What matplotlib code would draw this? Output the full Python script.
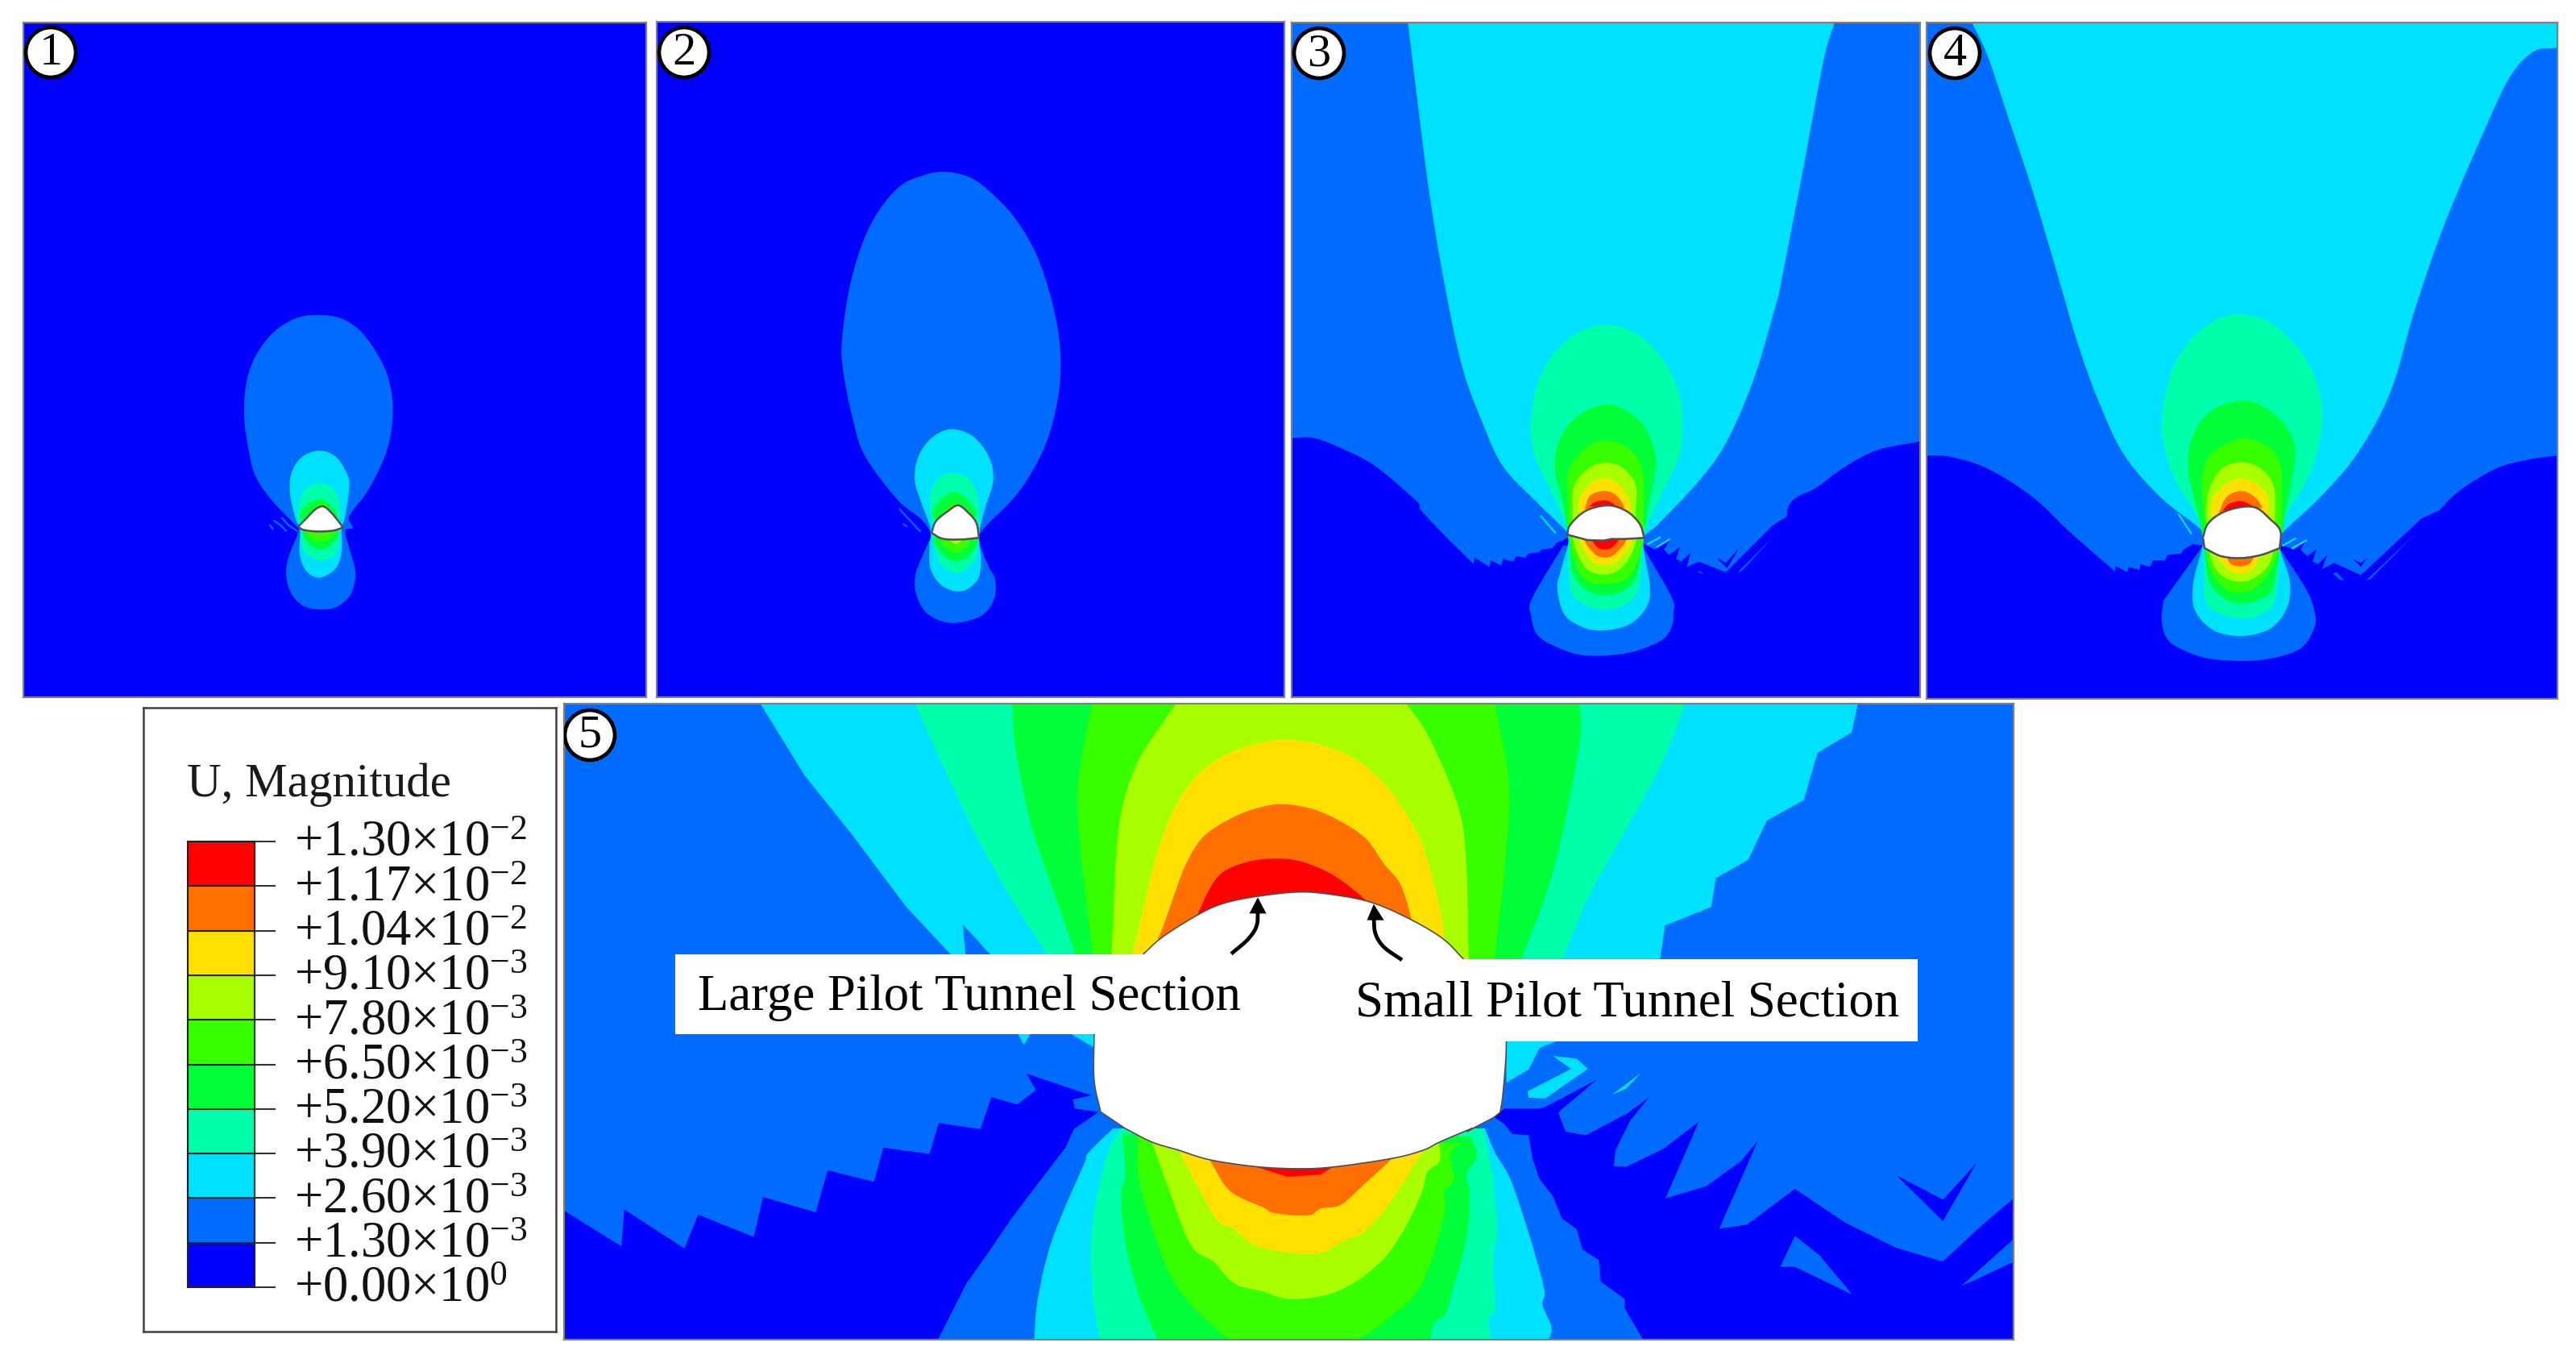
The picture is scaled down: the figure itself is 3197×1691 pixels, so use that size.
import numpy as np
import matplotlib
matplotlib.use('Agg')
import matplotlib.pyplot as plt
from matplotlib.patches import Polygon, Rectangle, Circle
from matplotlib.transforms import ScaledTranslation

plt.rcParams['font.family'] = ['Liberation Serif', 'DejaVu Serif']
plt.rcParams['mathtext.fontset'] = 'custom'
plt.rcParams['mathtext.rm'] = 'Liberation Serif'
plt.rcParams['mathtext.it'] = 'Liberation Serif'
plt.rcParams['mathtext.bf'] = 'Liberation Serif'

W, H = 3197, 1691

# legend
band_colors = ['#0000FF', '#006CFF', '#00E0FF', '#00FFAA', '#00FF38',
               '#38FF00', '#A8FF00', '#FFE000', '#FF7000', '#FF0000']
tick_labels = ['+0.00×10$^{0}$', '+1.30×10$^{-3}$', '+2.60×10$^{-3}$', '+3.90×10$^{-3}$',
               '+5.20×10$^{-3}$', '+6.50×10$^{-3}$', '+7.80×10$^{-3}$', '+9.10×10$^{-3}$',
               '+1.04×10$^{-2}$', '+1.17×10$^{-2}$', '+1.30×10$^{-2}$']
legend_title = 'U, Magnitude'
section_labels = ['Large Pilot Tunnel Section', 'Small Pilot Tunnel Section']

Z1 = (700, 860, 0.871, 1.96)
Z3 = (1600, 20, 1.96, 1.844)
Z4 = (2390, 20, 1.96, 1.844)
Z5 = (220, 350, 3, 3)
Z6 = (980, 180, 3, 2.412)
Z7 = (1800, 380, 3, 3)
Z8 = (2600, 380, 3, 3)
Z9 = (1200, 1400, 1.96, 2.966)
Z10 = (1100, 865, 1.425, 3)
Z11 = (1780, 1200, 2.178, 3)


def px(frame, pts):
    a = np.array(pts, dtype=float)
    return np.column_stack([frame[0] + a[:, 0] / frame[2], frame[1] + a[:, 1] / frame[3]])


def rom(p, closed=False, n=8):
    # catmull-rom through the read points, only to round the outline
    if len(p) < 3:
        return p
    if closed:
        q = np.vstack([p[-1], p, p[0], p[1]])
    else:
        q = np.vstack([2 * p[0] - p[1], p, 2 * p[-1] - p[-2]])
    t = np.linspace(0, 1, n, endpoint=False)[:, None]
    out = []
    for i in range(len(q) - 3):
        a, b, c, d = q[i:i + 4]
        out.append(0.5 * (2 * b + (c - a) * t + (2 * a - 5 * b + 4 * c - d) * t ** 2 + (3 * b - a - 3 * c + d) * t ** 3))
    out = np.vstack(out)
    if not closed:
        out = np.vstack([out, p[-1]])
    return out


def sm(p):
    # long flat edges stay straight, everything between them gets rounded
    if len(p) < 5:
        return p
    edges = np.hypot(*(np.roll(p, -1, axis=0) - p).T)
    longs = np.where(edges > 2.5 * np.median(edges))[0]
    if len(longs) == 0:
        return rom(p, closed=True)
    p = np.roll(p, -(longs[0] + 1), axis=0)
    longs = sorted((longs - longs[0] - 1) % len(p))
    runs, start = [], 0
    for k in longs:
        runs.append(rom(p[start:k + 1]))
        start = k + 1
    return np.vstack(runs)


# panel 1
p1_bands = [
    (1, px(Z5, [(525,122),(610,135),(680,180),(740,260),(780,340),(800,430),(800,520),(785,610),(750,700),(700,790),(640,870),(650,905),(652,918),(625,925),(640,990),(660,1060),(662,1110),(640,1170),(590,1210),(530,1218),(470,1205),(425,1160),(405,1090),(415,1020),(450,930),(440,905),(350,810),(290,720),(265,620),(250,520),(250,430),(265,340),(300,260),(360,185),(440,135)])),
    (2, px(Z5, [(530,627),(590,650),(630,710),(640,760),(625,870),(612,920),(612,1000),(590,1065),(530,1100),(480,1075),(455,1010),(458,925),(440,880),(420,790),(425,710),(465,650)])),
    (3, px(Z5, [(530,748),(580,770),(605,830),(605,920),(600,975),(580,1020),(535,1035),(485,1015),(460,970),(458,920),(450,880),(455,810),(485,765)])),
    (4, px(Z5, [(530,808),(570,830),(590,880),(460,880),(480,830)])),
    (4, px(Z5, [(470,925),(595,925),(580,970),(535,995),(490,975)])),
    (5, px(Z5, [(480,925),(590,925),(565,955),(530,965),(495,955)])),
    (5, px(Z5, [(500,850),(530,822),(555,825),(570,860)])),
]
p1_tunnel = np.vstack([rom(px(Z5, [(450,910),(480,880),(515,845),(545,835),(575,860),(600,890),(617,913)])),
                       rom(px(Z5, [(617,913),(580,925),(520,928),(470,922),(450,910)]))])
p1_wisps = [
    (1, px(Z5, [(345,905),(355,918)])),
    (1, px(Z5, [(360,888),(385,905),(405,925)])),
    (1, px(Z5, [(390,878),(415,905),(445,925)])),
]

# panel 2
p2_bands = [
    (1, px(Z6, [(585,80),(680,100),(760,150),(840,220),(920,330),(980,480),(1008,620),(1000,750),(960,880),(900,980),(830,1060),(720,1150),(708,1190),(740,1260),(765,1300),(760,1360),(710,1410),(600,1430),(510,1400),(470,1340),(470,1280),(510,1200),(525,1165),(490,1120),(400,1060),(280,930),(235,820),(200,680),(195,580),(230,400),(300,240),(400,130),(500,90)])),
    (2, px(Z6, [(600,850),(680,870),(740,930),(758,1000),(730,1080),(710,1140),(705,1185),(712,1240),(700,1300),(640,1335),(570,1320),(525,1270),(520,1200),(525,1150),(490,1070),(465,1000),(480,930),(530,875)])),
    (3, px(Z6, [(610,980),(670,1000),(700,1060),(708,1140),(700,1185),(690,1240),(625,1280),(560,1250),(535,1180),(530,1130),(520,1060),(550,1000)])),
    (4, px(Z6, [(610,1038),(660,1060),(690,1110),(540,1120),(550,1070)])),
    (4, px(Z6, [(540,1175),(695,1175),(670,1225),(620,1245),(570,1225)])),
    (5, px(Z6, [(555,1175),(680,1175),(655,1205),(620,1220),(580,1205)])),
    (5, px(Z6, [(570,1100),(610,1070),(650,1085),(660,1100)])),
    (6, px(Z6, [(585,1178),(650,1178),(620,1195)])),
]
p2_tunnel = np.vstack([rom(px(Z6, [(528,1160),(545,1125),(590,1095),(628,1078),(665,1100),(695,1130),(705,1175)])),
                       rom(px(Z6, [(705,1175),(640,1180),(570,1178),(528,1160)]))])
p2_wisps = [
    (1, px(Z6, [(410,1090),(485,1155)])),
    (1, px(Z6, [(425,1135),(435,1140)])),
]

# panel 3
p3_l0 = np.vstack([
    px(Z3, [(5,1600)]),
    rom(px(Z3, [(5,965),(60,965),(130,990),(210,1030),(310,1110),(320,1130),(380,1190),(445,1250)])),
    px(Z7, [(85,960),(90,935),(145,970),(150,945),(190,965),(195,940),(235,950),(245,930),(280,935),(290,920),(330,915),(340,905),(380,900),(395,880),(420,870),(435,860),
            (722,885),(760,905),(820,868),(795,905),(815,925),(855,895),(840,940),(860,950),(895,915),(880,970),(925,950),(1025,990),(1200,815)]),
    rom(px(Z3, [(1210,1145),(1215,1120),(1235,1100),(1280,1080),(1330,1045),(1380,1015),(1440,990),(1540,972)])),
    px(Z3, [(1540,1600)]),
])
p3_bands = [
    (0, p3_l0),
    (1, px(Z7, [(420,890),(305,1085),(300,1150),(325,1225),(400,1270),(490,1298),(600,1298),(700,1280),(790,1240),(825,1190),(830,1140),(825,1085),(720,900)])),
    (1, px(Z7, [(1070,990),(1200,860),(1085,985)])),
    (1, px(Z7, [(920,988),(930,985),(942,998)])),
    (0, px(Z7, [(990,935),(1025,955),(1075,900),(1030,975)])),
    (2, px(Z3, [(288,10),(310,180),(340,400),(375,600),(420,800),(470,930),(520,1030),(600,1110),(675,1180),(680,1200),(660,1270),(652,1310),(670,1370),(720,1400),(770,1405),(830,1390),(870,1350),(877,1300),(862,1200),(900,1160),(990,1070),(1060,980),(1130,830),(1190,640),(1250,350),(1300,100),(1328,10)])),
    (3, px(Z7, [(575,68),(680,95),(770,170),(840,290),(865,420),(850,560),(790,690),(725,830),(718,870),(700,1050),(650,1110),(580,1130),(500,1110),(445,1050),(440,870),(430,810),(380,700),(315,560),(300,440),(320,300),(380,180),(470,100)])),
    (4, px(Z7, [(575,365),(650,385),(725,450),(765,570),(745,700),(720,830),(715,880),(690,1010),(640,1060),(575,1075),(505,1055),(455,990),(440,870),(420,740),(390,610),(405,500),(470,410)])),
    (5, px(Z7, [(575,500),(660,525),(715,610),(720,760),(715,880),(670,1000),(580,1035),(490,1005),(445,880),(435,700),(440,610),(500,530)])),
    (6, px(Z7, [(575,582),(640,600),(690,665),(690,760),(690,880),(640,970),(575,998),(505,975),(460,880),(455,760),(460,670),(510,605)])),
    (7, px(Z7, [(575,640),(625,660),(665,720),(670,790),(480,790),(480,720),(520,660)])),
    (7, px(Z7, [(490,860),(670,860),(625,945),(575,962),(525,945)])),
    (8, px(Z7, [(575,687),(620,705),(650,750),(500,755),(520,705)])),
    (8, px(Z7, [(505,860),(650,860),(615,920),(575,935),(535,920)])),
    (9, px(Z7, [(575,722),(600,730),(620,745),(515,745),(540,728)])),
    (9, px(Z7, [(520,860),(635,860),(605,895),(575,905),(545,895)])),
]
p3_tunnel = np.vstack([rom(px(Z7, [(435,850),(445,815),(490,770),(540,748),(600,742),(660,765),(705,810),(722,862)])),
                       px(Z7, [(650,866),(600,866),(570,872),(510,870),(435,850)])])
p3_wisps = [
    (2, px(Z7, [(338,782),(390,842)])),
    (2, px(Z7, [(735,885),(780,860)])),
    (2, px(Z7, [(770,895),(815,868)])),
]

# panel 4
p4_l0 = np.vstack([
    px(Z4, [(0,1600)]),
    rom(px(Z4, [(0,1005),(60,1008),(150,1035),(260,1100),(350,1180),(460,1270)])),
    px(Z8, [(75,990),(75,965),(120,990),(125,970),(165,980),(170,960),(205,970),(215,945),(260,945),(270,925),(320,920),(330,905),(365,885),(395,890),(405,885),
            (700,890),(740,905),(785,875),(765,905),(790,930),(825,905),(810,950),(830,960),(865,925),(845,978),(890,955),(990,1000),(1215,790)]),
    rom(px(Z4, [(1250,1130),(1280,1100),(1330,1065),(1400,1030),(1480,1012),(1540,1005)])),
    px(Z4, [(1540,1600)]),
])
p4_bands = [
    (0, p4_l0),
    (1, px(Z8, [(395,900),(255,1095),(248,1170),(270,1240),(330,1280),(420,1310),(560,1320),(680,1305),(770,1270),(815,1200),(820,1150),(790,1060),(690,905)])),
    (1, px(Z8, [(1010,1020),(1200,840),(1025,1015)])),
    (1, px(Z8, [(885,995),(900,990),(930,1022),(910,1015)])),
    (0, px(Z8, [(960,940),(990,955),(1015,935),(990,970)])),
    (2, px(Z4, [(110,10),(150,90),(200,230),(260,400),(320,590),(370,750),(420,880),(480,1000),(570,1100),(675,1180),(672,1215),(650,1300),(655,1360),(700,1405),(770,1418),(840,1400),(880,1350),(885,1290),(860,1215),(865,1185),(960,1100),(1050,1000),(1130,860),(1190,670),(1260,480),(1350,280),(1420,140),(1480,80),(1540,68),(1540,10)])),
    (3, px(Z8, [(540,30),(650,60),(760,160),(830,300),(845,440),(800,620),(700,800),(690,900),(670,1090),(610,1150),(535,1160),(460,1140),(410,1090),(405,900),(390,800),(300,650),(255,510),(250,400),(285,240),(360,120),(450,50)])),
    (4, px(Z8, [(545,350),(640,380),(720,460),(745,560),(710,760),(690,890),(660,1050),(610,1090),(540,1105),(470,1080),(420,1010),(405,880),(380,760),(345,600),(365,480),(430,390)])),
    (5, px(Z8, [(545,492),(640,520),(690,590),(695,720),(685,900),(620,1030),(540,1065),(470,1040),(420,950),(408,800),(398,650),(430,550)])),
    (6, px(Z8, [(545,580),(620,605),(665,670),(670,780),(660,930),(610,1000),(540,1025),(470,1000),(430,930),(415,780),(425,680),(470,605)])),
    (7, px(Z8, [(545,640),(610,665),(645,720),(645,780),(430,780),(440,710),(490,660)])),
    (7, px(Z8, [(445,915),(620,915),(590,975),(540,995),(490,975)])),
    (8, px(Z8, [(545,687),(595,710),(625,750),(460,770),(490,710)])),
    (8, px(Z8, [(485,920),(600,920),(575,958),(540,968),(505,958)])),
    (9, px(Z8, [(545,725),(580,740),(600,760),(475,760),(500,735)])),
]
p4_tunnel = np.vstack([rom(px(Z8, [(402,860),(420,810),(470,770),(540,748),(600,750),(650,790),(690,835),(688,900)])),
                       rom(px(Z8, [(688,900),(620,925),(545,937),(470,930),(408,900)]))])
p4_wisps = [
    (2, px(Z8, [(312,775),(358,845)])),
    (2, px(Z8, [(700,890),(745,865)])),
    (2, px(Z8, [(735,900),(785,872)])),
]

# panel 5
p5_l0_left = px(Z1, [(0,1258),(62,1345),(65,1255),(130,1350),(145,1268),(205,1322),(215,1225),(272,1262),(285,1160),(335,1188),(345,1105),(395,1120),(405,1045),(450,1060),(462,982),(490,1000),(510,965),(500,925),(570,978),(550,988),(552,1010),(578,1018),(551,1060),(542,1105),(513,1190),(484,1276),(458,1362),(435,1435),(400,1590),(0,1590)])
p5_l0_right = px(Z11, [(178,540),(190,525),(285,525),(300,520),(440,418),(335,540),(355,612),(410,625),(520,545),(580,485),(530,570),(490,680),(485,740),(520,742),(620,675),(715,575),(625,860),(735,815),(830,720),(875,645),(770,973),(845,958),(975,825),(1110,950),(1250,1045),(1375,1095),(1480,960),(1575,850),(1575,1400),(570,1400),(515,1270),(515,1235),(450,1170),(445,1090),(400,1050),(385,975),(345,935),(320,850),(285,790),(265,710),(255,625),(210,620),(190,585),(160,555)])
p5_bands = [
    (0, p5_l0_left),
    (0, p5_l0_right),
    (1, px(Z11, [(975,1000),(935,1115),(975,1115),(1130,1218),(1040,1070)])),
    (1, px(Z11, [(1425,1185),(1460,1165),(1575,1090),(1575,1000),(1470,1130)])),
    (0, px(Z11, [(1250,775),(1375,865),(1465,730),(1375,945)])),
    # upper fan, runs down under the labels
    (2, px(Z1, [(208,10),(260,200),(310,340),(370,520),(420,640),(420,700),(1185,700),(1185,645),(1190,565),(1240,520),(1245,450),(1280,405),(1300,310),(1340,260),(1355,145),(1392,95),(1400,10)])),
    (1, px(Z10, [(135,845),(185,960),(140,960)])),
    (3, sm(px(Z10, [(48,10),(110,300),(170,560),(230,780),(285,960),(1195,980),(1240,750),(1300,520),(1370,250),(1415,10)]))),
    (4, sm(px(Z10, [(222,10),(228,190),(255,470),(290,690),(335,960),(1122,980),(1180,640),(1225,180),(1225,10)]))),
    (5, sm(px(Z10, [(365,10),(340,300),(340,500),(365,960),(1075,980),(1095,600),(1100,310),(1075,10)]))),
    (6, sm(px(Z10, [(517,10),(490,90),(440,260),(410,500),(398,960),(1030,980),(1025,600),(1010,400),(960,150),(915,10)]))),
    (7, sm(px(Z10, [(710,158),(770,178),(830,230),(880,320),(915,420),(950,560),(980,800),(985,880),(985,980),(435,960),(455,780),(480,570),(510,410),(545,300),(590,225),(650,175)]))),
    (8, sm(px(Z10, [(705,398),(760,420),(810,470),(850,530),(880,620),(910,700),(930,840),(930,900),(480,900),(490,850),(510,730),(530,620),(560,520),(610,450),(660,410)]))),
    (9, sm(px(Z10, [(665,603),(720,605),(770,640),(810,690),(855,770),(860,800),(550,810),(570,720),(590,660),(620,625)]))),
    # bits of cyan below the labels
    (2, px(Z11, [(195,270),(340,270),(285,300),(255,380),(195,430)])),
    (2, px(Z11, [(320,330),(385,340),(415,378),(300,488),(255,485),(252,462),(370,378)])),
    (2, px(Z11, [(480,475),(560,392),(520,450)])),
    (2, px(Z1, [(490,825),(505,825),(497,855)])),
    (2, px(Z1, [(545,825),(575,825),(575,865)])),
    # lower fan
    (2, sm(px(Z9, [(355,0),(295,90),(285,130),(230,320),(195,470),(170,650),(163,800),(1408,800),(1422,735),(1400,650),(1405,600),(1385,480),(1355,330),(1320,180),(1285,90),(1260,0)]))),
    (3, sm(px(Z9, [(375,0),(340,100),(305,350),(305,600),(325,800),(1275,800),(1270,700),(1285,660),(1280,480),(1290,370),(1280,210),(1280,180),(1255,0)]))),
    (4, sm(px(Z9, [(378,20),(385,170),(375,240),(385,420),(420,620),(470,800),(1125,800),(1135,720),(1165,680),(1180,600),(1215,400),(1222,240),(1215,170),(1240,100),(1225,30)]))),
    (5, sm(px(Z9, [(415,30),(420,200),(470,450),(510,580),(580,700),(680,800),(905,800),(1040,680),(1110,560),(1160,320),(1160,230),(1185,190),(1175,90),(1205,55)]))),
    (6, sm(px(Z9, [(450,50),(490,220),(545,430),(600,490),(650,570),(720,600),(790,628),(900,600),(1000,500),(1060,380),(1105,240),(1120,160),(1150,120),(1148,50)]))),
    (7, sm(px(Z9, [(515,80),(560,210),(610,340),(650,370),(700,430),(790,458),(860,458),(920,410),(965,380),(1030,270),(1110,80)]))),
    (8, sm(px(Z9, [(590,115),(640,230),(720,290),(750,312),(830,320),(860,295),(910,280),(970,200),(1035,110)]))),
    (9, px(Z9, [(700,140),(780,178),(860,170),(890,142)])),
]
p5_tunnel = np.vstack([
    rom(px(Z10, [(455,955),(490,890),(555,805),(600,765),(660,740),(730,725),(790,735),(860,765),(930,830),(985,900),(1020,973)])),
    rom(px(Z11, [(195,275),(193,350),(185,480),(178,540)])),
    rom(np.vstack([px(Z11, [(160,560),(90,610)]),
                   px(Z9, [(1228,0),(1150,50),(1110,80),(1035,110),(890,142),(800,148),(700,140),(590,115),(515,80),(450,50),(385,0)])])),
    rom(px(Z1, [(580,1018),(573,940),(573,830)])),
])
p5_left_arrow = rom(px(Z10, [(610,955),(640,900),(655,850),(657,790)]))
p5_left_head = px(Z10, [(642,805),(672,805),(657,745)])
p5_right_arrow = rom(px(Z10, [(912,978),(880,930),(865,880),(862,820)]))
p5_right_head = px(Z10, [(850,830),(880,830),(862,770)])


def panel_axes(x0, y0, x1, y1):
    ax = fig.add_axes([x0 / W, 1 - y1 / H, (x1 - x0) / W, (y1 - y0) / H])
    ax.set_xlim(x0, x1)
    ax.set_ylim(y1, y0)
    ax.set_xticks([])
    ax.set_yticks([])
    for s in ax.spines.values():
        s.set_color('#808080')
        s.set_linewidth(1.6)
    return ax


def draw_panel(rect, base, bands, tunnel, wisps, number, centre, smooth=True, edge=1.8):
    ax = panel_axes(*rect)
    ax.set_facecolor(band_colors[base])
    for level, pts in bands:
        if smooth and level >= 1:
            pts = sm(pts)
        ax.add_patch(Polygon(pts, closed=True, facecolor=band_colors[level], edgecolor='none', zorder=2))
    for level, pts in wisps:
        ax.plot(pts[:, 0], pts[:, 1], color=band_colors[level], lw=1.6, zorder=3)
    ax.add_patch(Polygon(tunnel, closed=True, facecolor='white', edgecolor='#505050', lw=edge, zorder=4))
    ax.add_patch(Circle(centre, 31, facecolor='white', edgecolor='black', lw=3.4, zorder=6))
    ax.text(centre[0], centre[1] + 1, number, ha='center', va='center', fontsize=42, zorder=7)
    return ax


fig = plt.figure(figsize=(W / 100, H / 100), dpi=100, facecolor='white')

draw_panel((29, 28, 802, 865), 0, p1_bands, p1_tunnel, p1_wisps, '1', (63, 65))
draw_panel((815, 27, 1594, 865), 0, p2_bands, p2_tunnel, p2_wisps, '2', (849, 65))
draw_panel((1603, 28, 2383, 865), 1, p3_bands, p3_tunnel, p3_wisps, '3', (1637, 66))
draw_panel((2391, 28, 3174, 867), 1, p4_bands, p4_tunnel, p4_wisps, '4', (2426, 66))
ax5 = draw_panel((700, 873, 2499, 1662), 1, p5_bands, p5_tunnel, [], '5', (732, 912), smooth=False, edge=1.2)

# labels and arrows of panel 5
ax5.add_patch(Rectangle((838, 1184), 700, 99, facecolor='white', edgecolor='none', zorder=4.5))
ax5.add_patch(Rectangle((1600, 1190), 780, 102, facecolor='white', edgecolor='none', zorder=4.5))
ax5.text(866, 1253, section_labels[0], ha='left', va='baseline', fontsize=45.2, zorder=5)
ax5.text(1682, 1261, section_labels[1], ha='left', va='baseline', fontsize=45.2, zorder=5)
for line, head in [(p5_left_arrow, p5_left_head), (p5_right_arrow, p5_right_head)]:
    ax5.plot(line[:, 0], line[:, 1], color='black', lw=3.4, zorder=5, solid_capstyle='butt')
    ax5.add_patch(Polygon(head, closed=True, facecolor='black', edgecolor='none', zorder=5))

# legend box
box = fig.add_axes([178 / W, 1 - 1652 / H, (690 - 178) / W, (1652 - 878) / H])
box.set_xticks([])
box.set_yticks([])
for s in box.spines.values():
    s.set_color('#404040')
    s.set_linewidth(1.8)
box.text(54 / 512, 1 - 110 / 774, legend_title, transform=box.transAxes, ha='left', va='baseline', fontsize=42.5, color='#1a1a1a')

cax = fig.add_axes([233 / W, 1 - 1597 / H, 83 / W, 553 / H])
cax.set_xlim(0, 1)
cax.set_ylim(0, len(band_colors))
for i, c in enumerate(band_colors):
    cax.bar(0.5, 1, width=1, bottom=i, color=c, edgecolor='#222222', linewidth=1.5)
cax.set_xticks([])
cax.yaxis.tick_right()
cax.set_yticks(range(len(tick_labels)))
cax.set_yticklabels(tick_labels, fontsize=45, color='#111111')
cax.tick_params(axis='y', length=19, width=1.5, color='#333333', pad=16)
lift = ScaledTranslation(0, 3 / 72, fig.dpi_scale_trans)
for lab in cax.get_yticklabels():
    lab.set_transform(lab.get_transform() + lift)
for s in cax.spines.values():
    s.set_color('#222222')
    s.set_linewidth(1.5)

fig.savefig('out.png', dpi=100)
